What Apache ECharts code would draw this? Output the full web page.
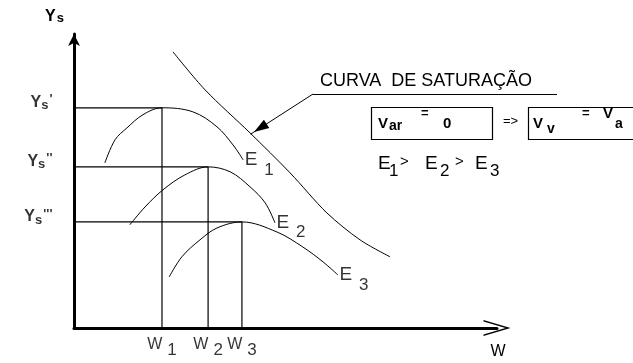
<!DOCTYPE html>
<html><head><meta charset="utf-8">
<script src="https://cdn.jsdelivr.net/npm/echarts@6/dist/echarts.min.js"></script>
<style>html,body{margin:0;padding:0;background:#fff}#c{width:633px;height:363px}</style>
</head><body><div id="c"></div>
<script>
// ---- data (abstract units: W 0..100, ys 0..102) ----
const W_OPT = [20.8, 31.7, 39.7];            // w1, w2, w3
const YS_MAX = [76.4, 55.9, 36.8];           // ys', ys'', ys'''
const YS_PRIMES = ["'", "''", "'''"];
const W_SUBS = ['1', '2', '3'];
const E_NAMES = ['1', '2', '3'];
const E1 = [[7.3,57.3],[9.7,65.3],[12.5,69.4],[16.3,74],[20.8,76.4],[28.1,75],[33.8,69.8],[37.6,63.5],[40,58.3]];
const E2 = [[13.2,35.8],[16.8,42],[21,47.9],[26.2,53.1],[31.7,55.9],[36.9,54.2],[41.6,49],[45.2,43.4],[47.5,36.5]];
const E3 = [[22.5,17.7],[25.5,24.7],[29.8,30.6],[33.8,34.7],[39.7,36.8],[48,33.3],[54.1,28.1],[58.9,22.9],[62.4,18.4]];
const SATURATION = [[23.4,95.8],[31,82.6],[41.6,67.7],[51.1,53.8],[59.8,39.9],[67.6,30.6],[74.7,24.7]];

const FONT = 'Liberation Sans';
const black = '#000';
const chart = echarts.init(document.getElementById('c'), null, {renderer: 'canvas'});

const series = [];
const curves = [E1, E2, E3];
// guide lines
YS_MAX.forEach((ys, i) => {
  series.push({type: 'line', data: [[0, ys], [W_OPT[i], ys], [W_OPT[i], 0]], symbol: 'none',
    lineStyle: {color: black, width: 1.2}, silent: true, animation: false, z: 2});
});
// compaction curves
curves.forEach(c => {
  series.push({type: 'line', data: c, smooth: 0.35, symbol: 'none',
    lineStyle: {color: black, width: 1}, silent: true, animation: false, z: 3});
});
series.push({type: 'line', data: SATURATION, smooth: 0.3, symbol: 'none',
  lineStyle: {color: black, width: 1}, silent: true, animation: false, z: 3});

const clear = {color: 'rgba(0,0,0,0)'};
// y labels
series.push({type: 'scatter', symbolSize: 1, itemStyle: clear, silent: true, animation: false,
  data: YS_MAX.map((ys, i) => ({value: [0, ys], label: {show: true, position: 'left', distance: 21, offset: [0, -5],
    formatter: '{y|Y}{s|s}{p|' + YS_PRIMES[i] + '}',
    rich: {y: {fontFamily: FONT, fontWeight: 'bold', fontSize: 16, color: black},
           s: {fontFamily: FONT, fontWeight: 'bold', fontSize: 13, color: black, padding: [6, 0, 0, 0]},
           p: {fontFamily: FONT, fontWeight: 'bold', fontSize: 13, color: black, padding: [0, 0, 6, 1]}}}}))});
// x labels
series.push({type: 'scatter', symbolSize: 1, itemStyle: clear, silent: true, animation: false,
  data: W_OPT.map((w, i) => ({value: [w, 0], label: {show: true, position: 'bottom', distance: 3,
    formatter: '{w|W}{n|' + W_SUBS[i] + '}',
    rich: {w: {fontFamily: FONT, fontSize: 16, color: black},
           n: {fontFamily: FONT, fontSize: 17, color: black, padding: [10, 0, 0, 5]}}}}))});
// curve end labels
series.push({type: 'scatter', symbolSize: 1, itemStyle: clear, silent: true, animation: false,
  data: curves.map((c, i) => ({value: c[c.length - 1], label: {show: true, position: 'right', distance: 1,
    formatter: '{e|E}{n|' + E_NAMES[i] + '}',
    rich: {e: {fontFamily: FONT, fontSize: 19, color: black},
           n: {fontFamily: FONT, fontSize: 17, color: black, padding: [20, 0, 0, 7]}}}}))});

function txt(text, x, y, size, bold) {
  return {type: 'text', x: x, y: y, silent: true,
    style: {text: text, font: (bold ? 'bold ' : '') + size + 'px ' + FONT, fill: black, verticalAlign: 'middle', align: 'left'}};
}
// arrow geometry
const tip = [254, 132], from = [313, 94];
const dx = tip[0] - from[0], dy = tip[1] - from[1], L = Math.hypot(dx, dy);
const ux = dx / L, uy = dy / L, bx = tip[0] - 15 * ux, by = tip[1] - 15 * uy;
const graphic = [
  txt('CURVA  DE SATURAÇÃO', 320, 81, 18, false),
  {type: 'line', silent: true, shape: {x1: 313, y1: 94.5, x2: 557, y2: 94.5}, style: {stroke: black, lineWidth: 1}},
  {type: 'line', silent: true, shape: {x1: from[0], y1: from[1], x2: tip[0] + 4 * ux, y2: tip[1] + 4 * uy}, style: {stroke: black, lineWidth: 1}},
  {type: 'polygon', silent: true, shape: {points: [tip, [bx - 5 * uy, by + 5 * ux], [bx + 5 * uy, by - 5 * ux]]}, style: {fill: black}},
  {type: 'rect', silent: true, shape: {x: 371.5, y: 107.5, width: 121, height: 32}, style: {fill: 'none', stroke: black, lineWidth: 1.2}},
  {type: 'rect', silent: true, shape: {x: 528.5, y: 107.5, width: 120, height: 32}, style: {fill: 'none', stroke: black, lineWidth: 1.2}},
  txt('V', 378, 123.5, 15, true), txt('ar', 389, 126, 14, true), txt('=', 421, 113, 13, true), txt('0', 443, 123.5, 15, true),
  txt('=>', 503, 121.5, 13, false),
  txt('V', 533, 123.5, 15, true), txt('v', 547, 129, 14, true), txt('=', 582, 113, 13, true), txt('V', 603, 113.5, 15, true), txt('a', 615, 124, 14, true),
  txt('E', 378, 164, 19, false), txt('1', 389, 171, 17, false), txt('>', 400, 162, 15, false),
  txt('E', 425, 164, 19, false), txt('2', 440, 171, 17, false), txt('>', 455, 162, 15, false),
  txt('E', 475, 164, 19, false), txt('3', 490, 171, 17, false)
];

chart.setOption({
  animation: false,
  backgroundColor: '#fff',
  grid: {left: 74, top: 34, right: 136, bottom: 35, outerBoundsMode: 'none'},
  xAxis: {type: 'value', min: 0, max: 100, name: 'W', nameLocation: 'end', nameGap: 1,
    nameTextStyle: {fontFamily: FONT, fontSize: 16, color: black, align: 'center', verticalAlign: 'top', padding: [16, 0, 0, 0]},
    axisLine: {show: true, lineStyle: {color: black, width: 3},
      symbol: ['none', 'path://M0,27 L8,0 L16,27 L14.5,27 L8,5 L1.5,27 Z'], symbolSize: [16, 27]},
    axisTick: {show: false}, axisLabel: {show: false}, splitLine: {show: false}},
  yAxis: {type: 'value', min: 0, max: 102, name: '{y|Y}{s|s}', nameLocation: 'end', nameGap: 9,
    nameTextStyle: {align: 'right', verticalAlign: 'bottom', padding: [0, 10, 0, 0],
      rich: {y: {fontFamily: FONT, fontWeight: 'bold', fontSize: 16, color: black},
             s: {fontFamily: FONT, fontWeight: 'bold', fontSize: 13, color: black, padding: [4, 0, 0, 1]}}},
    axisLine: {show: true, lineStyle: {color: black, width: 3}, symbol: ['none', 'arrow'], symbolSize: [9, 12]},
    axisTick: {show: false}, axisLabel: {show: false}, splitLine: {show: false}},
  series: series,
  graphic: graphic
});
</script>
</body></html>
